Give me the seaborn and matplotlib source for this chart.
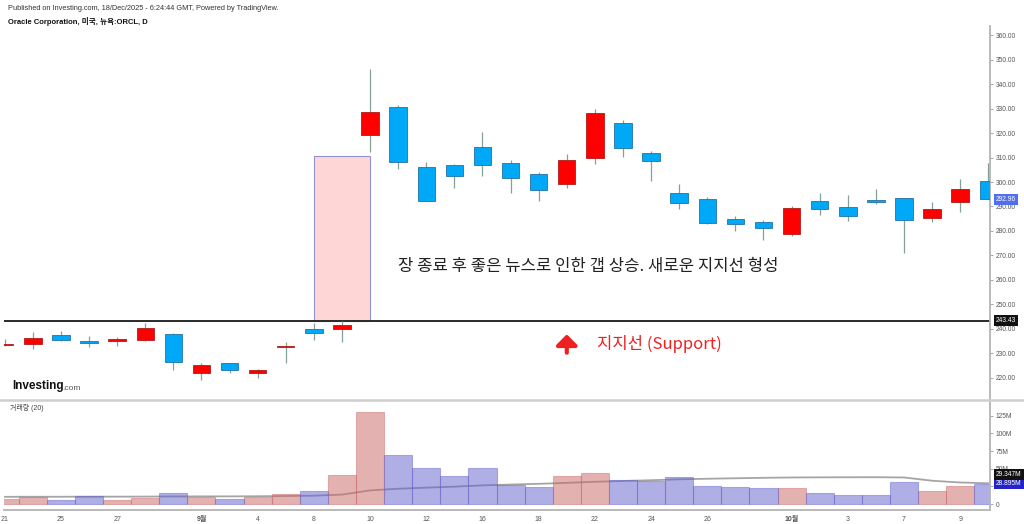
import numpy as np
import pandas as pd
import matplotlib
matplotlib.use("Agg")
import matplotlib.pyplot as plt
import matplotlib.transforms as mtransforms
from matplotlib.patches import Rectangle
from matplotlib.lines import Line2D
import seaborn as sns

# ---------------------------
# DATA (ORCL daily, Aug 21 - Oct 10 2025)
# ---------------------------
dates = ["08-21", "08-22", "08-25", "08-26", "08-27", "08-28", "08-29",
         "09-02", "09-03", "09-04", "09-05", "09-08", "09-09", "09-10",
         "09-11", "09-12", "09-15", "09-16", "09-17", "09-18", "09-19",
         "09-22", "09-23", "09-24", "09-25", "09-26", "09-29", "09-30",
         "10-01", "10-02", "10-03", "10-06", "10-07", "10-08", "10-09", "10-10"]

opens = [233.4, 234.0, 237.4, 235.1, 235.0, 235.6, 237.8,
         222.2, 226.1, 222.2, 232.8, 240.1, 240.1, 319.3,
         330.6, 306.0, 306.8, 314.3, 307.8, 303.3, 299.1,
         309.9, 324.2, 312.0, 295.5, 293.2, 284.8, 283.8,
         278.8, 292.1, 289.8, 292.5, 293.3, 285.4, 291.7, 300.5]
highs = [235.8, 238.8, 239.3, 237.1, 236.7, 242.3, 238.4,
         226.0, 226.1, 223.5, 234.8, 242.6, 243.4, 346.0,
         331.3, 308.0, 307.3, 320.4, 309.0, 304.0, 311.3,
         329.7, 325.2, 312.8, 299.1, 294.0, 286.0, 284.5,
         290.2, 295.4, 294.8, 297.0, 293.3, 291.8, 301.1, 307.9]
lows = [233.0, 231.7, 235.2, 232.8, 232.9, 235.2, 223.3,
        219.2, 222.2, 219.9, 226.2, 235.5, 234.7, 312.4,
        305.2, 292.2, 297.7, 302.4, 295.4, 292.4, 297.7,
        307.3, 310.3, 300.4, 289.0, 283.0, 280.0, 276.3,
        278.1, 286.4, 284.2, 291.0, 271.1, 283.8, 287.6, 292.9]
closes = [233.6, 236.4, 235.4, 234.3, 235.9, 240.3, 226.4,
          225.4, 223.4, 223.1, 233.0, 238.5, 241.8, 328.5,
          308.0, 292.2, 302.3, 306.9, 301.6, 296.9, 308.9,
          328.3, 314.0, 308.6, 291.6, 283.4, 282.9, 281.3,
          289.3, 289.0, 286.1, 291.7, 284.4, 288.9, 297.0, 292.96]

# volume in millions
volumes = [6.5, 9.4, 6.2, 11.3, 5.1, 8.0, 16.0,
           9.9, 7.5, 9.9, 14.6, 17.9, 41.0, 131.0,
           70.0, 51.6, 39.3, 51.6, 27.4, 24.0, 40.0,
           44.4, 34.0, 33.0, 38.3, 25.5, 24.6, 23.2,
           22.7, 15.0, 12.8, 13.2, 31.2, 18.9, 26.0, 28.9]
# 20-day volume average as drawn
volume_ma = [10.2, 10.3, 10.3, 10.4, 10.4, 10.5, 10.7,
             10.8, 10.8, 11.0, 11.3, 11.8, 13.3, 19.3,
             21.6, 23.2, 24.6, 26.4, 27.6, 28.6, 30.0,
             31.5, 32.6, 33.7, 35.0, 35.8, 36.5, 37.1,
             37.6, 37.8, 37.9, 38.0, 37.6, 33.0, 30.5, 29.35]

tick_dates = ["08-21", "08-25", "08-27", "09-02", "09-04", "09-08", "09-10",
              "09-12", "09-16", "09-18", "09-22", "09-24", "09-26", "10-01",
              "10-03", "10-07", "10-09"]
tick_labels = ["21", "25", "27", "9월", "4", "8", "10", "12", "16", "18",
               "22", "24", "26", "10월", "3", "7", "9"]

price_ticks = [220, 230, 240, 250, 260, 270, 280, 290, 300, 310, 320, 330, 340, 350, 360]
# 25M sits fully behind the value boxes in the original, so it is left blank
volume_ticks = [0, 25, 50, 75, 100, 125]
volume_tick_labels = ["0", "", "50M", "75M", "100M", "125M"]

support_level = 243.43
gap_box_top = 310.6
last_price = 292.96
last_volume = 28.895
last_volume_ma = 29.347

# ---------------------------
# STYLE
# ---------------------------
sns.set_theme(style="white")
plt.rcParams["font.family"] = ["Liberation Sans", "Noto Sans CJK KR"]

UP = "#ff0000"
UP_EDGE = "#b01a1a"
DOWN = "#00a8f8"
DOWN_EDGE = "#2372a8"
WICK = "#85a195"
VOL_UP = "#cb6565"
VOL_DOWN = "#6161cd"
AXIS = "#b4b4b4"
LABEL = "#555555"

df = pd.DataFrame({"date": dates, "open": opens, "high": highs, "low": lows,
                   "close": closes, "volume": volumes, "vma": volume_ma})
df["i"] = np.arange(len(df))
df["dir"] = np.where(df["close"] >= df["open"], "up", "down")

W, H = 1024, 524
fig = plt.figure(figsize=(W / 100, H / 100), dpi=100)
fig.patch.set_facecolor("white")


def px_axes(x0, y0, x1, y1):
    return fig.add_axes([x0 / W, 1 - y1 / H, (x1 - x0) / W, (y1 - y0) / H])


axp = px_axes(4.3, 26, 990, 399)
axv = px_axes(4.3, 401, 990, 510)

# ---------------------------
# PRICE PANE
# ---------------------------
axp.add_patch(Rectangle((df.loc[df.date == "09-08", "i"].item(), support_level), 2,
                        gap_box_top - support_level, facecolor="#ffd6d6",
                        edgecolor="#9292cc", lw=0.8, zorder=1))
axp.axhline(support_level, color="#2a2a2a", lw=1.4, zorder=2)

axp.vlines(df["i"], df["low"], df["high"], color=WICK, lw=0.9, zorder=3)
body_low = df[["open", "close"]].min(axis=1)
body_h = (df["close"] - df["open"]).abs().clip(lower=0.4)
up = df["dir"] == "up"
axp.bar(df["i"], body_h, bottom=body_low, width=0.62,
        color=np.where(up, UP, DOWN), edgecolor=np.where(up, UP_EDGE, DOWN_EDGE),
        linewidth=0.6, zorder=4)

axp.text(14.0, 265.7, "장 종료 후 좋은 뉴스로 인한 갭 상승. 새로운 지지선 형성",
         fontsize=12, color="#222222", va="center", ha="left",
         family=["Noto Sans CJK KR", "DejaVu Sans"])
axp.annotate("", xy=(20, 237.8), xytext=(20, 230.3),
             arrowprops=dict(arrowstyle="-|>,head_length=0.45,head_width=0.45",
                             color="#f02020", lw=3, mutation_scale=14,
                             shrinkA=0, shrinkB=0))
axp.text(21.08, 233.9, "지지선 (Support)", fontsize=12, color="#f02020",
         va="center", ha="left", family=["Noto Sans CJK KR", "DejaVu Sans"])

axp.set_xlim(-0.015, 35.06)
axp.set_ylim(211.4, 363.7)
axp.set_xticks([])
axp.yaxis.tick_right()
axp.set_yticks(price_ticks)
axp.set_yticklabels([f"{t:.2f}" for t in price_ticks])
axp.tick_params(axis="y", length=2.5, width=0.6, color="#999999",
                labelsize=4.8, labelcolor=LABEL, pad=1.5)
for s in ["top", "left", "bottom"]:
    axp.spines[s].set_visible(False)
axp.spines["right"].set_color(AXIS)
axp.spines["right"].set_linewidth(1.3)

ytrans = mtransforms.blended_transform_factory(axp.transAxes, axp.transData)
axp.text(1.006, last_price, f"{last_price:.2f}", transform=ytrans, fontsize=4.8,
         color="white", va="center", ha="left",
         bbox=dict(boxstyle="square,pad=0.3", fc="#4f6ff0", ec="none"))
axp.text(1.006, support_level, f"{support_level:.2f}", transform=ytrans, fontsize=4.8,
         color="white", va="center", ha="left",
         bbox=dict(boxstyle="square,pad=0.3", fc="#111111", ec="none"))

# ---------------------------
# VOLUME PANE
# ---------------------------
sns.lineplot(data=df, x="i", y="vma", color="#a5a5a5", lw=1.3, ax=axv, zorder=1)
sns.barplot(data=df, x="i", y="volume", hue="dir",
            palette={"up": VOL_UP, "down": VOL_DOWN}, dodge=False, width=1.0,
            native_scale=True, saturation=1, errorbar=None, legend=False,
            ax=axv, zorder=2)
for p in axv.patches:
    fc = p.get_facecolor()
    p.set_facecolor((fc[0], fc[1], fc[2], 0.5))
    p.set_edgecolor((fc[0], fc[1], fc[2], 0.45))
    p.set_linewidth(0.8)

axv.set_xlim(-0.015, 35.06)
axv.set_ylim(-8.5, 146)
axv.set_xlabel("")
axv.set_ylabel("")
axv.yaxis.tick_right()
axv.set_yticks(volume_ticks)
axv.set_yticklabels(volume_tick_labels)
axv.tick_params(axis="y", length=2.5, width=0.6, color="#999999",
                labelsize=4.8, labelcolor=LABEL, pad=1.5)
tick_pos = [dates.index(d) for d in tick_dates]
axv.set_xticks(tick_pos)
axv.set_xticklabels(tick_labels)
axv.tick_params(axis="x", length=2.5, width=0.6, color="#999999",
                labelsize=5, labelcolor=LABEL, pad=1.5)
for lbl in axv.get_xticklabels():
    if "월" in lbl.get_text():
        lbl.set_fontweight("bold")
for s in ["top", "left"]:
    axv.spines[s].set_visible(False)
for s in ["right", "bottom"]:
    axv.spines[s].set_color(AXIS)
    axv.spines[s].set_linewidth(1.3)

vtrans = mtransforms.blended_transform_factory(axv.transAxes, axv.transData)
axv.text(1.006, last_volume, f"{last_volume:.3f}M", transform=vtrans, fontsize=4.8,
         color="white", va="center", ha="left",
         bbox=dict(boxstyle="square,pad=0.3", fc="#2323c8", ec="none"))
axv.annotate(f"{last_volume_ma:.3f}M", xy=(1.006, last_volume_ma), xycoords=vtrans,
             xytext=(0, 6.5), textcoords="offset points", fontsize=4.8,
             color="white", va="center", ha="left",
             bbox=dict(boxstyle="square,pad=0.3", fc="#111111", ec="none"))

# ---------------------------
# FRAME TEXT
# ---------------------------
fig.add_artist(Line2D([0, 1], [1 - 400 / H] * 2, color="#cfcfcf", lw=1.8))
fig.text(8 / W, 1 - 9 / H,
         "Published on Investing.com, 18/Dec/2025 - 6:24:44 GMT, Powered by TradingView.",
         fontsize=5.3, color="#333333", va="center", ha="left")
fig.text(8 / W, 1 - 22 / H, "Oracle Corporation, 미국, 뉴욕:ORCL, D",
         fontsize=5.5, fontweight="bold", color="#111111", va="center", ha="left")
fig.text(12 / W, 1 - 386 / H, "Investing", fontsize=8.5, fontweight="bold",
         color="#111111", va="center", ha="left")
fig.text(62 / W, 1 - 388 / H, ".com", fontsize=6, color="#555555",
         va="center", ha="left")
fig.text(10 / W, 1 - 408 / H, "거래량 (20)", fontsize=5, color="#444444",
         va="center", ha="left")

fig.savefig("out.png", dpi=100, facecolor="white")
